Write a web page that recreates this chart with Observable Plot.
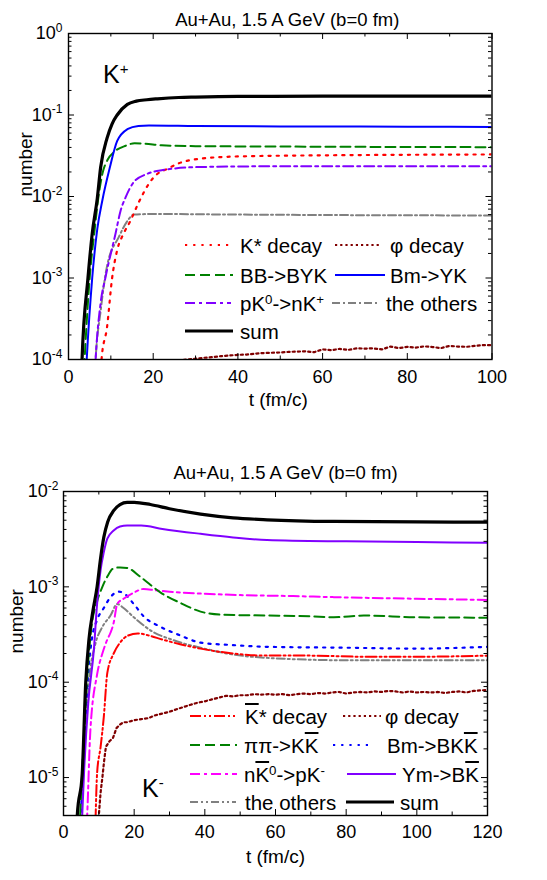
<!DOCTYPE html>
<html><head><meta charset="utf-8">
<script src="https://cdn.jsdelivr.net/npm/d3@7"></script>
<script src="https://cdn.jsdelivr.net/npm/@observablehq/plot@0.6"></script>
<style>
body{margin:0;background:#fff;}
#root{position:relative;width:547px;height:880px;overflow:hidden;font-family:Arial,"Liberation Sans",sans-serif;color:#000;}
#root svg{display:block;}
.lg{position:absolute;white-space:nowrap;font-size:20.5px;line-height:20px;}
.ov{text-decoration:overline;text-decoration-thickness:1.5px;}
.lg sup{font-size:0.65em;line-height:0;vertical-align:0.55em;}
.klab{position:absolute;white-space:nowrap;font-size:25px;line-height:25px;}
.klab sup{font-size:0.6em;line-height:0;vertical-align:0.6em;}
</style></head><body><div id="root"></div>
<script>
// ================= DATA =================
const titleText = "Au+Au, 1.5 A GeV (b=0 fm)";
const xLabelText = "t (fm/c)";
const yLabelText = "number";

// ---- K+ panel: [t (fm/c), number] ----
const kpXTicks = [0, 20, 40, 60, 80, 100];
const kpYTicks = [1e-4, 1e-3, 1e-2, 1e-1, 1];
const kpKstar = [[7.4,5e-5],[7.8,1e-4],[9.1,2.5e-4],[10.3,1e-3],[11.5,2.2e-3],[13,3.5e-3],[14.6,5e-3],[16.6,8.5e-3],[19,0.0144],[21,0.019],[23.3,0.0218],[26,0.0255],[31,0.029],[40,0.031],[60,0.032],[80,0.0325],[100,0.0328]];
const kpPhi = [[26,9.7e-5],[28,1.0e-4],[30,1.02e-4],[32,1.05e-4],[34,1.07e-4],[36,1.1e-4],[38,1.12e-4],[40,1.14e-4],[42,1.15e-4],[44,1.18e-4],[46,1.2e-4],[48,1.21e-4],[50,1.22e-4],[52,1.24e-4],[54,1.25e-4],[56,1.26e-4],[58,1.23e-4],[60,1.33e-4],[62,1.3e-4],[64,1.35e-4],[66,1.31e-4],[68,1.37e-4],[70,1.36e-4],[72,1.37e-4],[74,1.33e-4],[76,1.44e-4],[78,1.38e-4],[80,1.43e-4],[82,1.4e-4],[84,1.45e-4],[86,1.42e-4],[88,1.38e-4],[90,1.47e-4],[92,1.44e-4],[94,1.43e-4],[96,1.47e-4],[98,1.5e-4],[100,1.5e-4]];
const kpBB = [[3.5,5e-5],[3.8,1e-4],[5.0,1e-3],[6.2,4e-3],[7.2,0.011],[8.0,0.019],[9.2,0.028],[11,0.036],[13.5,0.042],[15.6,0.045],[18,0.0445],[22,0.0425],[30,0.0415],[50,0.041],[100,0.0403]];
const kpBm = [[4.0,5e-5],[4.3,1e-4],[5.6,1e-3],[6.8,4e-3],[8.0,9e-3],[9.7,0.022],[11.5,0.048],[13.9,0.067],[16.5,0.0735],[19,0.0745],[30,0.0735],[50,0.0725],[80,0.0718],[100,0.0712]];
const kpPK0 = [[6.1,5e-5],[6.4,1e-4],[7.6,5e-4],[8.7,1e-3],[11.1,3.5e-3],[12.3,6.7e-3],[13.5,0.0098],[15.4,0.015],[18.6,0.019],[22,0.021],[31,0.023],[50,0.0235],[100,0.0235]];
const kpOthers = [[6.1,5e-5],[6.4,1e-4],[7.6,4e-4],[9.1,1.4e-3],[11.9,3.2e-3],[13.9,5e-3],[15.4,6e-3],[20,6.1e-3],[40,6e-3],[70,5.9e-3],[100,5.85e-3]];
const kpSum = [[3.0,5e-5],[3.2,1e-4],[4.6,1e-3],[5.6,3.5e-3],[6.8,9.5e-3],[7.6,0.023],[9.1,0.052],[10.3,0.078],[11.5,0.1],[13.9,0.135],[16,0.148],[18.5,0.154],[21,0.158],[26,0.164],[30,0.166],[40,0.169],[60,0.17],[80,0.17],[100,0.17]];
const kpLabels = ["K* decay", "φ decay", "BB-&gt;BYK", "Bm-&gt;YK", "pK<sup>0</sup>-&gt;nK<sup>+</sup>", "the others", "sum"];

// ---- K- panel: [t (fm/c), number] ----
const kmXTicks = [0, 20, 40, 60, 80, 100, 120];
const kmYTicks = [1e-5, 1e-4, 1e-3, 1e-2];
const kmKstar = [[8.9,2e-6],[9.1,4e-6],[9.5,1.1e-5],[10.5,2.1e-5],[11.4,4.3e-5],[12.4,1.25e-4],[14.2,2.0e-4],[16,2.6e-4],[18,3.05e-4],[21,3.25e-4],[24,3.1e-4],[28,2.8e-4],[33,2.5e-4],[38.8,2.25e-4],[48,2.0e-4],[57.6,1.9e-4],[70,1.9e-4],[85,1.85e-4],[100,1.85e-4],[120,1.9e-4]];
const kmPhi = [[9.8,2e-6],[10,4e-6],[10.5,7e-6],[11,1e-5],[11.5,1.5e-5],[12,2.1e-5],[13,2.4e-5],[14,2.6e-5],[15,3.3e-5],[16,3.6e-5],[17,3.8e-5],[18,3.8e-5],[20,4.0e-5],[22,4.1e-5],[24,4.2e-5],[26,4.5e-5],[28,4.7e-5],[30,4.9e-5],[32,5.2e-5],[34,5.5e-5],[36,5.8e-5],[38,6.1e-5],[40,6.3e-5],[42,6.6e-5],[44,6.9e-5],[46,7.2e-5],[48,7.1e-5],[50,7.3e-5],[52,7.3e-5],[54,7.5e-5],[56,7.4e-5],[58,7.5e-5],[60,7.4e-5],[62,7.5e-5],[64,7.3e-5],[66,7.5e-5],[68,7.6e-5],[70,7.5e-5],[72,7.7e-5],[74,7.6e-5],[76,7.8e-5],[78,7.9e-5],[80,7.6e-5],[82,7.8e-5],[84,7.9e-5],[86,7.8e-5],[88,8.0e-5],[90,7.9e-5],[92,8.1e-5],[94,8.0e-5],[96,7.8e-5],[98,8.0e-5],[100,7.8e-5],[102,7.9e-5],[104,7.8e-5],[106,7.9e-5],[108,7.7e-5],[110,7.9e-5],[112,8.0e-5],[114,7.8e-5],[116,8.1e-5],[118,8.2e-5],[120,8.3e-5]];
const kmPiPi = [[4.2,2e-6],[4.7,4e-6],[5.6,2e-5],[6.6,1e-4],[7.8,3.5e-4],[9.5,7e-4],[11,1e-3],[12.5,1.3e-3],[14,1.55e-3],[16,1.6e-3],[18,1.58e-3],[21.8,1.27e-3],[27.5,8.7e-4],[33,6.8e-4],[38.8,5.5e-4],[45,5.1e-4],[57.6,5.0e-4],[70,4.9e-4],[76.5,4.8e-4],[85,5.0e-4],[100,4.8e-4],[120,4.75e-4]];
const kmBm = [[4.5,2e-6],[4.9,4e-6],[5.8,2e-5],[6.8,1e-4],[8,2.8e-4],[9.5,4.5e-4],[11.4,6e-4],[13.3,7.8e-4],[15.5,8.9e-4],[17,8.6e-4],[19.9,6.6e-4],[22.7,4.9e-4],[27.5,3.8e-4],[33,3.1e-4],[38.8,2.6e-4],[48,2.45e-4],[57.6,2.35e-4],[80,2.3e-4],[100,2.25e-4],[120,2.35e-4]];
const kmNK0 = [[6.3,2e-6],[6.7,4e-6],[7.6,3.1e-5],[9.5,1.2e-4],[11,2e-4],[12.4,2.8e-4],[13.3,3.3e-4],[14.2,4.2e-4],[15.2,6.6e-4],[17,7.5e-4],[19.9,8.7e-4],[22.7,9.5e-4],[26,9.2e-4],[30,8.9e-4],[38.8,8.5e-4],[50,8.2e-4],[65,8.0e-4],[76.5,7.8e-4],[100,7.5e-4],[120,7.3e-4]];
const kmYm = [[4.8,2e-6],[5.3,4e-6],[5.8,1.1e-5],[7.0,6e-5],[8.6,2.2e-4],[9.5,6.6e-4],[10.5,1.5e-3],[11.4,2.3e-3],[12.4,3.2e-3],[14.2,3.9e-3],[16,4.3e-3],[18,4.4e-3],[22,4.4e-3],[28,4.05e-3],[38.8,3.6e-3],[48,3.3e-3],[57.6,3.1e-3],[80,3.0e-3],[100,2.95e-3],[120,2.9e-3]];
const kmOthers = [[4.5,2e-6],[5.0,4e-6],[6.0,2e-5],[7.2,1e-4],[9,2.5e-4],[11,3.8e-4],[13.3,5e-4],[15.2,6.6e-4],[17,6e-4],[19.9,4.8e-4],[24.6,3.5e-4],[31.2,2.75e-4],[38.8,2.3e-4],[48,1.95e-4],[57.6,1.8e-4],[80,1.7e-4],[100,1.7e-4],[120,1.7e-4]];
const kmSum = [[3.6,2e-6],[3.9,4e-6],[5.3,1.1e-5],[6.3,1e-4],[7.2,2.8e-4],[8.3,5.5e-4],[9.5,1e-3],[10.5,2e-3],[11.4,3.3e-3],[12.5,4.8e-3],[14.2,6.3e-3],[16,7.3e-3],[18,7.7e-3],[20,7.7e-3],[24.6,7.3e-3],[30,6.6e-3],[38.8,5.8e-3],[48,5.3e-3],[57.6,5.05e-3],[76.5,4.85e-3],[100,4.8e-3],[120,4.77e-3]];
const kmLabels = ["<span class=ov>K</span>* decay", "φ decay", "ππ-&gt;K<span class=ov>K</span>", "Bm-&gt;BK<span class=ov>K</span>", "n<span class=ov>K</span><sup>0</sup>-&gt;pK<sup>-</sup>", "Ym-&gt;B<span class=ov>K</span>", "the others", "sum"];

// ================= STYLES / LAYOUT =================
const ST = {
  kstarTop: {stroke:"#ff0000", w:2.2, dash:"2.2,6"},
  phi:      {stroke:"#800000", w:2.2, dash:"2.2,3"},
  bb:       {stroke:"#008000", w:2, dash:"10,5"},
  bmTop:    {stroke:"#0000ff", w:2, dash:null},
  pk0:      {stroke:"#8000ff", w:2, dash:"10,4,3,4"},
  othersTop:{stroke:"#808080", w:2, dash:"8,3,2,3"},
  sum:      {stroke:"#000000", w:3.2, dash:null},
  kstarBot: {stroke:"#ff0000", w:2, dash:"11,3,2,3,2,3"},
  pipi:     {stroke:"#008000", w:2, dash:"10,5"},
  bmBot:    {stroke:"#0000ff", w:2.2, dash:"2.2,6"},
  nk0:      {stroke:"#ff00ff", w:2, dash:"10,4,3,4"},
  ym:       {stroke:"#8000ff", w:2, dash:null},
  othersBot:{stroke:"#808080", w:2, dash:"8,3,2,3,2,3"}
};

const W = 547;
const FONT = "Arial, 'Liberation Sans', sans-serif";

function minorLog(domain) {
  const out = [];
  for (let e = Math.floor(Math.log10(domain[0])); e < Math.ceil(Math.log10(domain[1])); e++)
    for (let k = 2; k <= 9; k++) { const v = k * Math.pow(10, e); if (v >= domain[0] * 0.999 && v <= domain[1]) out.push(v); }
  return out;
}

function panel(o) {
  const fw = W - o.ml - o.mr, fh = o.h - o.mt - o.mb;
  const xMinor = o.xt.slice(0, -1).map((d, i) => (d + o.xt[i + 1]) / 2);
  const yMinor = minorLog(o.yd);
  const ticks = [];
  const tx = (vals, len) => [
    Plot.ruleX(vals, {x: d => d, insetTop: fh - len, stroke: "#000", strokeWidth: 1}),
    Plot.ruleX(vals, {x: d => d, insetBottom: fh - len, stroke: "#000", strokeWidth: 1})];
  const ty = (vals, len) => [
    Plot.ruleY(vals, {y: d => d, insetRight: fw - len, stroke: "#000", strokeWidth: 1}),
    Plot.ruleY(vals, {y: d => d, insetLeft: fw - len, stroke: "#000", strokeWidth: 1})];
  ticks.push(...tx(o.xt, 6), ...tx(xMinor, 3.5), ...ty(o.yt, 6), ...ty(yMinor, 3.5));
  const lines = o.series.map(([data, s]) => Plot.line(data, {
    x: d => d[0], y: d => d[1], stroke: s.stroke, strokeWidth: s.w,
    strokeDasharray: s.dash, curve: s.curve || "monotone-x", clip: true}));
  const texts = [
    Plot.text([titleText], {text: d => d, frameAnchor: "top", dx: o.titleDx, dy: o.titleDy, fontSize: 18.5}),
    Plot.text([xLabelText], {text: d => d, frameAnchor: "bottom", dx: o.xlDx, dy: o.xlDy, fontSize: 19}),
    Plot.text([yLabelText], {text: d => d, frameAnchor: "left", rotate: -90, dx: o.ylDx, fontSize: 19})
  ];
  const svg = Plot.plot({
    width: W, height: o.h, marginTop: o.mt, marginBottom: o.mb, marginLeft: o.ml, marginRight: o.mr,
    style: {fontFamily: FONT, fontSize: "18px", color: "#000", background: "transparent", overflow: "visible"},
    x: {domain: o.xd, ticks: o.xt, tickSize: 0, tickPadding: o.xpad, tickFormat: d => String(d), label: null},
    y: {type: "log", domain: o.yd, ticks: o.yt, tickSize: 0, tickPadding: o.ypad,
        tickFormat: d => "10^" + Math.round(Math.log10(d)), label: null},
    marks: [...lines, ...ticks, Plot.frame({stroke: "#000", strokeWidth: 1.4}), ...texts]
  });
  // superscript exponents on log tick labels
  svg.querySelectorAll("text").forEach(t => {
    const m = /^10\^(-?\d+)$/.exec(t.textContent.trim());
    if (!m || t.querySelector("tspan")) return;
    const ns = "http://www.w3.org/2000/svg";
    t.textContent = "";
    const a = document.createElementNS(ns, "tspan"); a.textContent = "10";
    const b = document.createElementNS(ns, "tspan"); b.textContent = m[1];
    b.setAttribute("dy", "-7.5"); b.style.fontSize = "12px";
    t.appendChild(a); t.appendChild(b);
  });
  svg.style.position = "absolute"; svg.style.left = "0px"; svg.style.top = o.top + "px";
  return svg;
}

const root = document.getElementById("root");
root.appendChild(panel({
  top: 0, h: 425, mt: 33, mb: 66, ml: 68, mr: 55.5,
  xd: [0, 100], yd: [1e-4, 1], xt: kpXTicks, yt: kpYTicks, xpad: 11, ypad: 6,
  titleDx: 7, titleDy: -21, xlDx: -2, xlDy: 46, ylDx: -43,
  series: [[kpPhi, {...ST.phi, curve: "linear"}], [kpOthers, ST.othersTop], [kpKstar, ST.kstarTop], [kpPK0, ST.pk0], [kpBB, ST.bb], [kpBm, ST.bmTop], [kpSum, ST.sum]]
}));
root.appendChild(panel({
  top: 425, h: 455, mt: 66, mb: 65, ml: 63, mr: 60,
  xd: [0, 120], yd: [4e-6, 1e-2], xt: kmXTicks, yt: kmYTicks, xpad: 10, ypad: 5,
  titleDx: 10, titleDy: -26, xlDx: 0, xlDy: 47, ylDx: -47,
  series: [[kmPhi, {...ST.phi, curve: "linear"}], [kmOthers, ST.othersBot], [kmKstar, ST.kstarBot], [kmBm, ST.bmBot], [kmNK0, ST.nk0], [kmPiPi, ST.pipi], [kmYm, ST.ym], [kmSum, ST.sum]]
}));

// ================= LEGENDS (HTML overlay) =================
function sample(s, x0, x1, y) {
  const sv = d3.create("svg").attr("width", x1 - x0).attr("height", 10)
    .style("position", "absolute").style("left", x0 + "px").style("top", (y - 5) + "px");
  sv.append("line").attr("x1", 0).attr("x2", x1 - x0).attr("y1", 5).attr("y2", 5)
    .attr("stroke", s.stroke).attr("stroke-width", s.w).attr("stroke-dasharray", s.dash);
  root.appendChild(sv.node());
}
function entry(s, html, x0, x1, tx, y) {
  sample(s, x0, x1, y);
  const d = document.createElement("div");
  d.className = "lg"; d.innerHTML = html;
  d.style.left = tx + "px"; d.style.top = (y + 8 - 17) + "px";
  root.appendChild(d);
}
// top legend rows
entry(ST.kstarTop, kpLabels[0], 185, 229, 240, 245);
entry(ST.phi, kpLabels[1], 335, 381, 390, 245);
entry(ST.bb, kpLabels[2], 185, 233, 240, 275);
entry(ST.bmTop, kpLabels[3], 335, 385, 390, 275);
entry(ST.pk0, kpLabels[4], 185, 231, 240, 303);
entry(ST.othersTop, kpLabels[5], 332, 378, 386, 303);
entry(ST.sum, kpLabels[6], 185, 233, 240, 331);
// bottom legend rows
entry(ST.kstarBot, kmLabels[0], 190, 237, 245, 716);
entry(ST.phi, kmLabels[1], 343, 381, 385, 716);
entry(ST.pipi, kmLabels[2], 190, 237, 244, 745);
entry(ST.bmBot, kmLabels[3], 333, 371, 387, 745);
entry(ST.nk0, kmLabels[4], 190, 237, 244, 774);
entry(ST.ym, kmLabels[5], 347, 396, 402, 774);
entry(ST.othersBot, kmLabels[6], 190, 236, 245, 802);
entry(ST.sum, kmLabels[7], 346, 394, 400, 802);

// panel tags
function klab(html, x, baseline) {
  const d = document.createElement("div");
  d.className = "klab"; d.innerHTML = html;
  d.style.left = x + "px"; d.style.top = (baseline - 21) + "px";
  root.appendChild(d);
}
klab("K<sup>+</sup>", 103, 83);
klab("K<sup>-</sup>", 142, 797);
</script></body></html>
